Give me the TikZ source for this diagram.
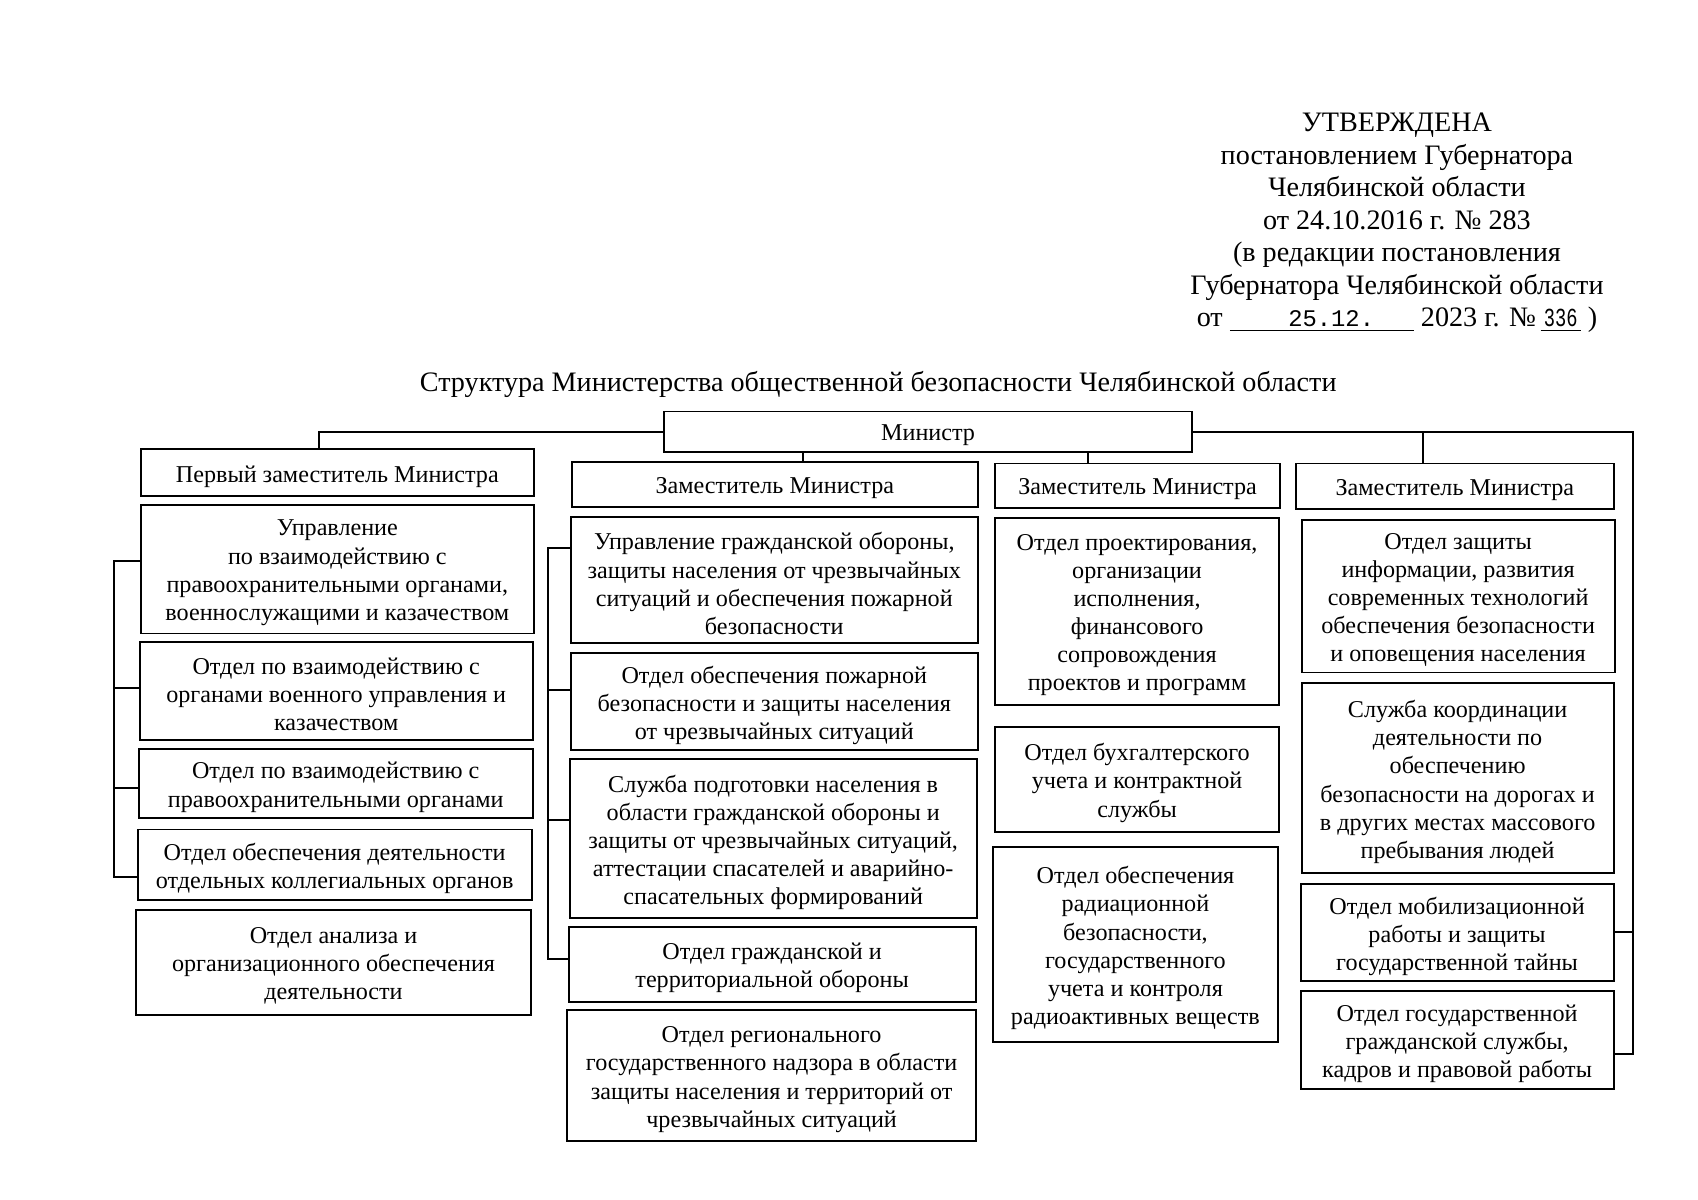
\documentclass[tikz,border=0pt]{standalone}
\usepackage{fontspec}
\usepackage{graphicx}
\setmainfont{Liberation Serif}
\newfontfamily\monof{Liberation Mono}
\newcommand\orgbox[6]{%
  \pgfmathsetmacro\obw{(#4-#2)*0.5}%
  \pgfmathsetmacro\obh{(#5-#3)*0.5}%
  \node[box,minimum width=\obw pt,minimum height=\obh pt] (#1) at ({(#2+#4)/2},{(#3+#5)/2}) {};
  \node[boxtext] (#1-t) at ([yshift=-1.75pt]#1.center) {#6};}
\begin{document}
\begin{tikzpicture}[x=0.5pt,y=-0.5pt,
  box/.style={draw,line width=0.9pt,inner sep=0pt},
  boxtext/.style={align=center,inner sep=0pt,font=\fontsize{11.15}{13}\selectfont},
  conn/.style={line width=0.9pt},
  hdrtext/.style={align=center,inner sep=0pt,font=\fontsize{13}{15}\selectfont}]
\useasboundingbox[fill=white] (0,0) rectangle (1568,1108);

% header
\node[hdrtext] (hdr) at (1290,206) {УТВЕРЖДЕНА\\постановлением Губернатора\\Челябинской области\\от 24.10.2016 г. № 283\\(в редакции постановления\\Губернатора Челябинской области\\от \underline{\makebox[85pt][l]{\hspace{27pt}\fontsize{11}{15}\monof 25.12.}} 2023 г. №\,\underline{\makebox[18.5pt][l]{\hspace{1.5pt}\scalebox{0.72}[1]{\fontsize{12}{15}\monof 336}}}\ )};
\node[hdrtext] (title) at (811,355) {Структура Министерства общественной безопасности Челябинской области};

% top
\orgbox{min}{613}{380}{1101}{417}{Министр}

% column 1
\orgbox{z1}{130}{415}{493}{458}{Первый заместитель Министра}
\orgbox{a1}{130}{466}{493}{585}{Управление\\по взаимодействию с\\правоохранительными органами,\\военнослужащими и казачеством}
\orgbox{a2}{129}{593}{492}{683}{Отдел по взаимодействию с\\органами военного управления и\\казачеством}
\orgbox{a3}{128}{692}{492}{755}{Отдел по взаимодействию с\\правоохранительными органами}
\orgbox{a4}{127}{766}{491}{831}{Отдел обеспечения деятельности\\отдельных коллегиальных органов}
\orgbox{a5}{126}{840}{490}{937}{Отдел анализа и\\организационного обеспечения\\деятельности}

% column 2
\orgbox{z2}{528}{427}{903}{468}{Заместитель Министра}
\orgbox{b1}{527}{477}{903}{594}{Управление гражданской обороны,\\защиты населения от чрезвычайных\\ситуаций и обеспечения пожарной\\безопасности}
\orgbox{b2}{527}{603}{903}{693}{Отдел обеспечения пожарной\\безопасности и защиты населения\\от чрезвычайных ситуаций}
\orgbox{b3}{526}{701}{902}{848}{Служба подготовки населения в\\области гражданской обороны и\\защиты от чрезвычайных ситуаций,\\аттестации спасателей и аварийно-\\спасательных формирований}
\orgbox{b4}{525}{856}{901}{925}{Отдел гражданской и\\территориальной обороны}
\orgbox{b5}{524}{933}{901}{1054}{Отдел регионального\\государственного надзора в области\\защиты населения и территорий от\\чрезвычайных ситуаций}

% column 3
\orgbox{z3}{919}{428}{1182}{469}{Заместитель Министра}
\orgbox{c1}{919}{478}{1181}{651}{Отдел проектирования,\\организации\\исполнения,\\финансового\\сопровождения\\проектов и программ}
\orgbox{c2}{919}{671}{1181}{768}{Отдел бухгалтерского\\учета и контрактной\\службы}
\orgbox{c3}{917}{782}{1180}{962}{Отдел обеспечения\\радиационной\\безопасности,\\государственного\\учета и контроля\\радиоактивных веществ}

% column 4
\orgbox{z4}{1197}{428}{1490}{470}{Заместитель Министра}
\orgbox{d1}{1202}{480}{1491}{621}{Отдел защиты\\информации, развития\\современных технологий\\обеспечения безопасности\\и оповещения населения}
\orgbox{d2}{1202}{631}{1490}{806}{Служба координации\\деятельности по\\обеспечению\\безопасности на дорогах и\\в других местах массового\\пребывания людей}
\orgbox{d3}{1201}{816}{1490}{906}{Отдел мобилизационной\\работы и защиты\\государственной тайны}
\orgbox{d4}{1201}{915}{1490}{1006}{Отдел государственной\\гражданской службы,\\кадров и правовой работы}

% bus coordinates
\coordinate (bus1) at (105,0);
\coordinate (bus2) at (506,0);
\coordinate (bus4) at (1508,0);

% connectors from the minister
\draw[conn] (min.west) -| ([xshift=-8.25pt]z1.north);
\coordinate (z2t) at ([xshift=13pt]z2.north);
\coordinate (z3t) at ([xshift=-23pt]z3.north);
\coordinate (z4t) at ([xshift=-14.75pt]z4.north);
\draw[conn] (z2t) -- (z2t |- min.south);
\draw[conn] (z3t) -- (z3t |- min.south);
\draw[conn] (z4t) -- (z4t |- min.east);
\coordinate (d4c) at ([yshift=-6.25pt]d4.east);
\draw[conn] (min.east) -| (d4c -| bus4) -- (d4c);
\draw[conn] (d3.east) -- (d3.east -| bus4);

% column 1 bus
\coordinate (a1c) at ([yshift=3.75pt]a1.west);
\coordinate (a2c) at ([yshift=1.5pt]a2.west);
\coordinate (a3c) at ([yshift=-2.25pt]a3.west);
\coordinate (a4c) at ([yshift=-5.75pt]a4.west);
\draw[conn] (a1c) -- (a1c -| bus1) |- (a4c);
\draw[conn] (a2c) -- (a2c -| bus1);
\draw[conn] (a3c) -- (a3c -| bus1);

% column 2 bus
\coordinate (b1c) at ([yshift=14.75pt]b1.west);
\coordinate (b2c) at ([yshift=5.5pt]b2.west);
\coordinate (b3c) at ([yshift=8.75pt]b3.west);
\coordinate (b4c) at ([yshift=2.25pt]b4.west);
\draw[conn] (b1c) -- (b1c -| bus2) |- (b4c);
\draw[conn] (b2c) -- (b2c -| bus2);
\draw[conn] (b3c) -- (b3c -| bus2);
\end{tikzpicture}
\end{document}
